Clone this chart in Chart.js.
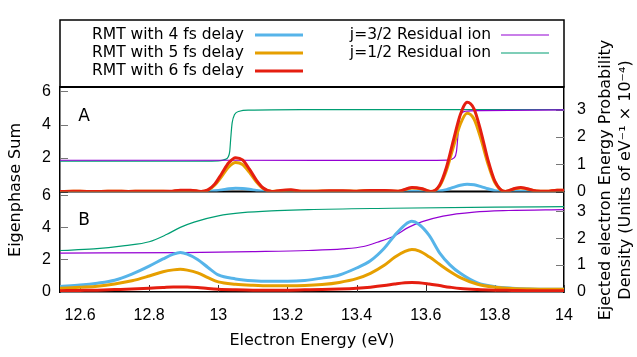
<!DOCTYPE html>
<html>
<head>
<meta charset="utf-8">
<script src="https://cdn.jsdelivr.net/npm/chart.js@4.4.1/dist/chart.umd.min.js"></script>
<style>
  html, body { margin: 0; padding: 0; background: #fff; }
  #wrap { width: 637px; height: 357px; }
</style>
</head>
<body>
<div id="wrap"><canvas id="chart" width="637" height="357"></canvas></div>
<script>
const FONT = "'DejaVu Sans', sans-serif";

// panel A: ejected electron spectra (right axis)
const energyA = [12.542, 12.58, 12.62, 12.66, 12.70, 12.74, 12.78, 12.82, 12.86, 12.89, 12.92, 12.95, 12.97, 12.99,
  13.01, 13.03, 13.05, 13.07, 13.09, 13.11, 13.13, 13.155, 13.18, 13.21, 13.24, 13.28, 13.32, 13.36, 13.40, 13.44,
  13.48, 13.52, 13.56, 13.59, 13.615, 13.64, 13.66, 13.68, 13.70, 13.72, 13.74, 13.76, 13.78, 13.80, 13.83, 13.86,
  13.875, 13.92, 13.95, 13.98, 14.00];
const rmt6A = [0.00, 0.01, 0.00, 0.00, 0.01, 0.00, 0.01, 0.01, 0.01, 0.05, 0.05, 0.00, 0.06, 0.28,
  0.66, 1.05, 1.24, 1.16, 0.82, 0.42, 0.13, 0.00, 0.04, 0.06, 0.01, 0.01, 0.03, 0.03, 0.01, 0.04,
  0.04, 0.01, 0.15, 0.10, 0.00, 0.23, 0.89, 1.87, 2.81, 3.27, 3.02, 2.18, 1.16, 0.38, 0.00, 0.12,
  0.15, 0.02, 0.01, 0.05, 0.05];
const rmt5A = [0.00, 0.01, 0.00, 0.00, 0.01, 0.00, 0.01, 0.01, 0.00, 0.04, 0.04, 0.00, 0.05, 0.24,
  0.56, 0.90, 1.06, 0.99, 0.70, 0.36, 0.11, 0.00, 0.03, 0.05, 0.01, 0.01, 0.02, 0.02, 0.01, 0.04,
  0.03, 0.01, 0.13, 0.09, 0.00, 0.20, 0.78, 1.64, 2.47, 2.87, 2.65, 1.91, 1.02, 0.33, 0.00, 0.11,
  0.13, 0.02, 0.01, 0.05, 0.04];
const rmt4A = [0.00, 0.00, 0.00, 0.00, 0.00, 0.00, 0.00, 0.00, 0.00, 0.00, 0.00, 0.00, 0.01, 0.03,
  0.06, 0.10, 0.12, 0.11, 0.08, 0.04, 0.01, 0.00, 0.00, 0.00, 0.00, 0.00, 0.00, 0.00, 0.00, 0.00,
  0.00, 0.00, 0.01, 0.01, 0.00, 0.02, 0.07, 0.15, 0.23, 0.27, 0.25, 0.18, 0.10, 0.03, 0.00, 0.01,
  0.01, 0.00, 0.00, 0.00, 0.00];

// panel A: eigenphase sums (left axis)
const j32Ax = [12.542, 13.0, 13.6, 13.665, 13.683, 13.689, 13.693, 13.697, 13.702, 13.715, 13.76, 14.0];
const j32Ay = [1.87, 1.87, 1.86, 1.88, 2.02, 2.4, 3.3, 4.2, 4.65, 4.8, 4.84, 4.88];
const j12Ax = [12.542, 12.9, 13.0, 13.02, 13.028, 13.033, 13.036, 13.04, 13.047, 13.061, 13.09, 13.24, 14.0];
const j12Ay = [1.82, 1.81, 1.83, 1.92, 2.05, 2.4, 3.2, 4.1, 4.6, 4.8, 4.87, 4.9, 4.9];

// panel B: ejected electron spectra (right axis)
const energyB = [12.542, 12.6, 12.65, 12.7, 12.75, 12.8, 12.84, 12.87, 12.89, 12.91, 12.94, 12.97, 13.0, 13.05,
  13.1, 13.15, 13.2, 13.25, 13.3, 13.35, 13.4, 13.44, 13.48, 13.51, 13.54, 13.56, 13.58, 13.61, 13.64, 13.67,
  13.7, 13.75, 13.8, 13.85, 13.9, 13.95, 14.0];
const rmt4B = [0.19, 0.24, 0.31, 0.42, 0.65, 0.95, 1.22, 1.40, 1.46, 1.40, 1.20, 0.90, 0.62, 0.47,
  0.40, 0.38, 0.38, 0.41, 0.50, 0.62, 0.88, 1.15, 1.62, 2.10, 2.50, 2.63, 2.52, 2.10, 1.45, 1.00,
  0.68, 0.32, 0.18, 0.12, 0.09, 0.08, 0.08];
const rmt5B = [0.12, 0.16, 0.20, 0.28, 0.40, 0.58, 0.74, 0.81, 0.83, 0.80, 0.70, 0.52, 0.36, 0.27,
  0.23, 0.21, 0.21, 0.22, 0.26, 0.34, 0.48, 0.68, 0.98, 1.28, 1.50, 1.57, 1.52, 1.30, 1.02, 0.75,
  0.52, 0.27, 0.16, 0.11, 0.09, 0.08, 0.08];
const rmt6B = [0.03, 0.04, 0.05, 0.07, 0.09, 0.12, 0.15, 0.17, 0.17, 0.17, 0.15, 0.11, 0.08, 0.06,
  0.05, 0.05, 0.05, 0.06, 0.07, 0.09, 0.12, 0.16, 0.22, 0.28, 0.33, 0.34, 0.33, 0.28, 0.22, 0.16,
  0.11, 0.07, 0.05, 0.04, 0.03, 0.03, 0.03];

// panel B: eigenphase sums (left axis)
const j32Bx = [12.542, 12.9, 13.1, 13.26, 13.36, 13.42, 13.46, 13.51, 13.55, 13.59, 13.65, 13.74, 13.84, 14.0];
const j32By = [2.39, 2.42, 2.48, 2.55, 2.65, 2.8, 3.07, 3.48, 4.0, 4.36, 4.71, 4.96, 5.06, 5.12];
const j12Bx = [12.542, 12.64, 12.73, 12.8, 12.85, 12.89, 12.93, 13.0, 13.07, 13.17, 13.26, 13.5, 13.8, 14.0];
const j12By = [2.55, 2.65, 2.86, 3.1, 3.55, 4.0, 4.33, 4.72, 4.92, 5.05, 5.12, 5.2, 5.27, 5.3];

const xTicks = [12.6, 12.8, 13, 13.2, 13.4, 13.6, 13.8, 14];
const legendLeft = ['RMT with 4 fs delay', 'RMT with 5 fs delay', 'RMT with 6 fs delay'];
const legendRight = ['j=3/2 Residual ion', 'j=1/2 Residual ion'];

const BLUE = '#56b4e9', ORANGE = '#e69f00', RED = '#e51e10', PURPLE = '#9400d3', TEAL = '#009e73';

function pts(xs, ys) {
  return xs.map((x, i) => ({ x: x, y: ys[i] }));
}

function line(label, xs, ys, color, width, axis, order) {
  return {
    label: label,
    data: pts(xs, ys),
    borderColor: color,
    borderWidth: width,
    yAxisID: axis,
    order: order,
    pointRadius: 0,
    fill: false,
    cubicInterpolationMode: 'monotone'
  };
}

const datasets = [
  line(legendLeft[2], energyA, rmt6A, RED, 3, 'rA', 0),
  line(legendLeft[1], energyA, rmt5A, ORANGE, 3, 'rA', 1),
  line(legendLeft[0], energyA, rmt4A, BLUE, 3, 'rA', 2),
  line(legendRight[0], j32Ax, j32Ay, PURPLE, 1.2, 'yA', 3),
  line(legendRight[1], j12Ax, j12Ay, TEAL, 1.2, 'yA', 4),
  line(legendLeft[2], energyB, rmt6B, RED, 3, 'rB', 0),
  line(legendLeft[1], energyB, rmt5B, ORANGE, 3, 'rB', 1),
  line(legendLeft[0], energyB, rmt4B, BLUE, 3, 'rB', 2),
  line(legendRight[0], j32Bx, j32By, PURPLE, 1.2, 'yB', 3),
  line(legendRight[1], j12Bx, j12By, TEAL, 1.2, 'yB', 4)
];

function yAxis(pos, stack, weight, min, max, step, pad, width, hideZero) {
  return {
    type: 'linear',
    position: pos,
    stack: stack,
    stackWeight: weight,
    min: min,
    max: max,
    ticks: {
      stepSize: step, includeBounds: false, padding: pad, color: '#000', font: { size: 16 },
      autoSkip: false,
      callback: v => (hideZero && v === 0) ? '' : String(v)
    },
    grid: { drawOnChartArea: false, drawTicks: false },
    border: { color: '#000', width: 1.5 },
    afterFit: s => { s.width = width; }
  };
}

const frame = {
  id: 'frame',
  beforeDatasetsDraw(chart) {
    const ctx = chart.ctx, ca = chart.chartArea, s = chart.scales;
    ctx.save();
    // inward ticks
    ctx.lineWidth = 1;
    ctx.strokeStyle = '#777';
    ['yA', 'yB'].forEach(id => {
      s[id].ticks.forEach(t => {
        const y = Math.round(s[id].getPixelForValue(t.value)) + 0.5;
        ctx.beginPath(); ctx.moveTo(ca.left, y); ctx.lineTo(ca.left + 8, y); ctx.stroke();
      });
    });
    ['rA', 'rB'].forEach(id => {
      s[id].ticks.forEach(t => {
        const y = Math.round(s[id].getPixelForValue(t.value)) + 0.5;
        ctx.beginPath(); ctx.moveTo(ca.right - 8, y); ctx.lineTo(ca.right, y); ctx.stroke();
      });
    });
    ctx.strokeStyle = '#333';
    s.x.ticks.forEach(t => {
      const x = Math.round(s.x.getPixelForValue(t.value)) + 0.5;
      ctx.beginPath(); ctx.moveTo(x, ca.bottom); ctx.lineTo(x, ca.bottom - 7); ctx.stroke();
    });
    // panel top and separator
    ctx.strokeStyle = '#000';
    ctx.lineWidth = 2;
    ctx.beginPath(); ctx.moveTo(ca.left, ca.top); ctx.lineTo(ca.right, ca.top); ctx.stroke();
    const sep = s.yA.bottom;
    ctx.beginPath(); ctx.moveTo(ca.left, sep); ctx.lineTo(ca.right, sep); ctx.stroke();
    ctx.restore();
  },
  afterDraw(chart) {
    const ctx = chart.ctx, ca = chart.chartArea;
    ctx.save();
    ctx.fillStyle = '#000';
    ctx.textBaseline = 'middle';

    // legend box
    ctx.strokeStyle = '#000';
    ctx.lineWidth = 1.5;
    ctx.strokeRect(ca.left, 20, ca.right - ca.left, ca.top - 20);
    const rows = [35, 53, 71];
    const leftColors = [BLUE, ORANGE, RED];
    const rightColors = [PURPLE, TEAL];
    ctx.font = '15.5px ' + FONT;
    ctx.textAlign = 'right';
    legendLeft.forEach((t, i) => {
      ctx.fillText(t, 244, rows[i]);
      ctx.strokeStyle = leftColors[i]; ctx.lineWidth = 3;
      ctx.beginPath(); ctx.moveTo(255, rows[i]); ctx.lineTo(303, rows[i]); ctx.stroke();
    });
    legendRight.forEach((t, i) => {
      ctx.fillText(t, 491, rows[i]);
      ctx.strokeStyle = rightColors[i]; ctx.lineWidth = 1.2;
      ctx.beginPath(); ctx.moveTo(501, rows[i]); ctx.lineTo(549, rows[i]); ctx.stroke();
    });

    // panel letters
    ctx.textAlign = 'center';
    ctx.font = '17px ' + FONT;
    ctx.fillText('A', 84, 117);
    ctx.fillText('B', 84, 221);

    // axis titles
    ctx.font = '16px ' + FONT;
    ctx.fillText('Electron Energy (eV)', (ca.left + ca.right) / 2, 341);
    ctx.save();
    ctx.translate(16, 190);
    ctx.rotate(-Math.PI / 2);
    ctx.fillText('Eigenphase Sum', 0, 0);
    ctx.restore();
    ctx.save();
    ctx.translate(606, 180);
    ctx.rotate(-Math.PI / 2);
    ctx.fillText('Ejected electron Energy Probability', 0, 0);
    ctx.fillText('Density (Units of eV\u207B\u00B9 \u00D7 10\u207B\u2074)', 0, 20);
    ctx.restore();
    ctx.restore();
  }
};

new Chart(document.getElementById('chart'), {
  type: 'line',
  data: { datasets: datasets },
  plugins: [frame],
  options: {
    responsive: false,
    animation: false,
    devicePixelRatio: 1,
    layout: { padding: { top: 87, left: 0, right: 0, bottom: 0 } },
    plugins: { legend: { display: false }, tooltip: { enabled: false } },
    scales: {
      x: {
        type: 'linear',
        min: 12.542,
        max: 14,
        afterBuildTicks: s => { s.ticks = xTicks.map(v => ({ value: v })); },
        ticks: { padding: 14, color: '#000', font: { size: 16 }, maxRotation: 0, autoSkip: false,
          callback: v => String(+v.toFixed(1)) },
        grid: { drawOnChartArea: false, drawTicks: false },
        border: { color: '#000', width: 1.5 },
        afterFit: s => { s.height = 65; }
      },
      yB: yAxis('left', 'left', 100.5, -0.05, 6.25, 2, 9, 60, false),
      yA: yAxis('left', 'left', 104.5, 0, 6.25, 2, 9, 60, true),
      rA: yAxis('right', 'right', 104.5, 0, 3.83, 1, 13, 73, false),
      rB: yAxis('right', 'right', 100.5, -0.02, 3.75, 1, 13, 73, false)
    }
  }
});
</script>
</body>
</html>
